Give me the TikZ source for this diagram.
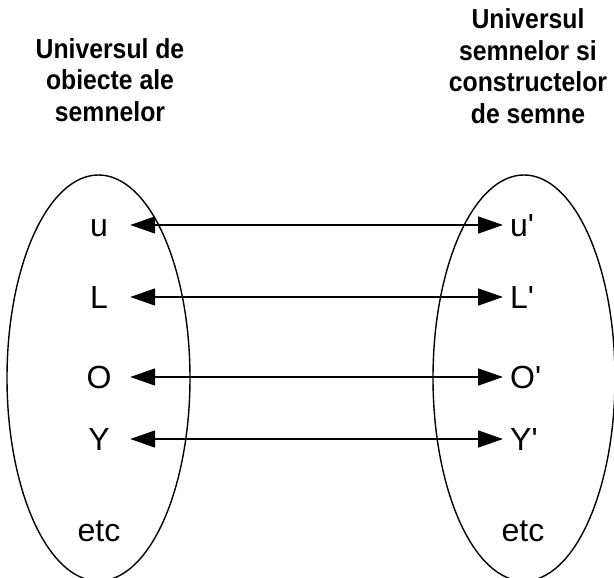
\documentclass[tikz,border=0pt]{standalone}
\usepackage{fontspec}
\setmainfont{Liberation Sans}
\newfontfamily\titlefont[FakeStretch=0.9]{Liberation Sans}
\usetikzlibrary{arrows.meta}
\begin{document}
\begin{tikzpicture}[x=1pt,y=-1pt,
  set/.style={draw, line width=1.4pt},
  lab/.style={font=\fontsize{32}{32}\selectfont, inner sep=0pt, text height=23pt, text depth=0pt},
  leftlab/.style={lab, minimum width=62pt, anchor=center},
  rightlab/.style={lab, anchor=west, inner xsep=7pt},
  title/.style={font=\titlefont\bfseries\fontsize{27.5}{31.5}\selectfont, align=center, inner sep=0pt},
  link/.style={{Triangle[length=25pt,width=17pt]}-{Triangle[length=25pt,width=17pt]}, line width=1.6pt}]
\useasboundingbox (0,0) rectangle (614,578);
% sets
\draw[set] (98.5,378) ellipse [x radius=91.5, y radius=203];
\draw[set] (524,378) ellipse [x radius=91, y radius=203];
% titles
\node[title] (tL) at (110,80) {Universul de\\obiecte ale\\semnelor};
\node[title] (tR) at (528,66) {Universul\\semnelor si\\constructelor\\de semne};
% left labels
\node[leftlab] (uL) at (99,225) {u};
\node[leftlab] (lL) at (99,297) {L};
\node[leftlab] (oL) at (99,377) {O};
\node[leftlab] (yL) at (99,439) {Y};
\node[leftlab] (eL) at (99,530) {etc};
% right labels
\node[rightlab] (uR) at (503,225) {u\textquotesingle};
\node[rightlab] (lR) at (503,297) {L\textquotesingle};
\node[rightlab] (oR) at (503,377) {O\textquotesingle};
\node[rightlab] (yR) at (503,439) {Y\textquotesingle};
\node[lab, anchor=center] (eR) at (523,530) {etc};
% links
\draw[link] (uL.east) -- (uR.west);
\draw[link] (lL.east) -- (lR.west);
\draw[link] (oL.east) -- (oR.west);
\draw[link] (yL.east) -- (yR.west);
\end{tikzpicture}
\end{document}
